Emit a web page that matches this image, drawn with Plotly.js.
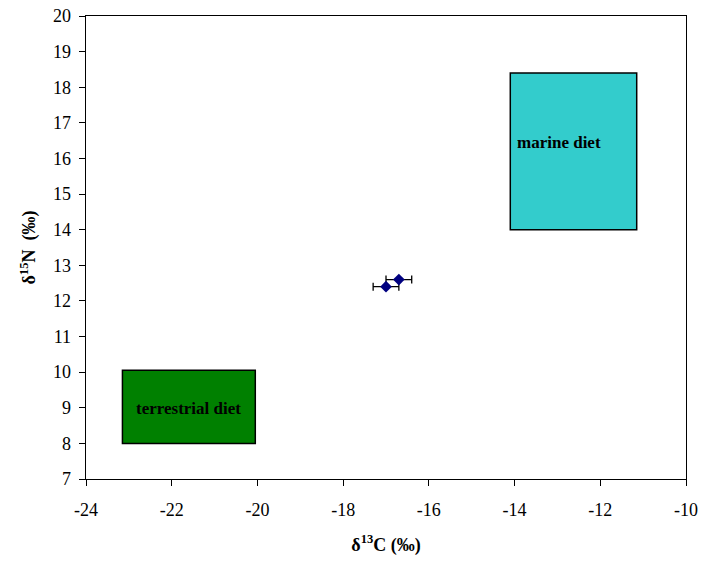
<!DOCTYPE html>
<html><head><meta charset="utf-8">
<script src="https://cdn.plot.ly/plotly-3.0.1.min.js"></script>
<style>html,body{margin:0;padding:0;background:#fff}</style>
</head><body>
<div id="chart" style="width:701px;height:563px"></div>
<script>
// Data
const pointsX = [-17.0, -16.7];
const pointsY = [12.4, 12.6];
const errX = [0.3, 0.3];

const boxNames = ["terrestrial diet", "marine diet"];
const boxX0 = [-23.15, -14.1];
const boxX1 = [-20.05, -11.15];
const boxY0 = [8.0, 14.0];
const boxY1 = [10.05, 18.4];
const boxColors = ["#008000", "#33CCCC"];

const xTicks = [-24, -22, -20, -18, -16, -14, -12, -10];
const yTicks = [7, 8, 9, 10, 11, 12, 13, 14, 15, 16, 17, 18, 19, 20];

const font = "Liberation Serif";

const shapes = boxNames.map((n, i) => ({
  type: "rect", xref: "x", yref: "y",
  x0: boxX0[i], x1: boxX1[i], y0: boxY0[i], y1: boxY1[i],
  fillcolor: boxColors[i], line: {color: "#000", width: 1.5}, layer: "below"
}));

const annotations = [
  {x: (boxX0[0] + boxX1[0]) / 2, y: (boxY0[0] + boxY1[0]) / 2 - 0.05, xref: "x", yref: "y",
   text: "<b>" + boxNames[0] + "</b>", showarrow: false,
   font: {family: font, size: 17, color: "#000"}},
  {x: boxX0[1] + 0.1, y: 16.45, xref: "x", yref: "y", xanchor: "left",
   text: "<b>" + boxNames[1] + "</b>", showarrow: false,
   font: {family: font, size: 17, color: "#000"}}
];

const trace = {
  x: pointsX, y: pointsY, type: "scatter", mode: "markers",
  marker: {symbol: "diamond", size: 9, color: "#000080"},
  error_x: {type: "data", array: errX, visible: true, color: "#000", thickness: 1.3, width: 4},
  showlegend: false, hoverinfo: "x+y"
};

const layout = {
  width: 701, height: 563,
  margin: {l: 86, r: 15, t: 16, b: 84},
  paper_bgcolor: "#fff", plot_bgcolor: "#fff",
  font: {family: font, size: 18, color: "#000"},
  showlegend: false,
  xaxis: {
    range: [-24, -10], tickmode: "array", tickvals: xTicks, ticktext: xTicks.map(String),
    showgrid: false, zeroline: false,
    showline: true, linecolor: "#000", linewidth: 1.3, mirror: true,
    ticks: "outside", ticklen: 6, tickcolor: "#000", tickwidth: 1,
    ticklabelstandoff: 8,
    tickfont: {family: font, size: 18, color: "#000"},
    title: {text: "<b>δ<sup>13</sup>C (‰)</b>", font: {family: font, size: 18, color: "#000"}, standoff: 19}
  },
  yaxis: {
    range: [7, 20], tickmode: "array", tickvals: yTicks,
    showgrid: false, zeroline: false,
    showline: true, linecolor: "#000", linewidth: 1.3, mirror: true,
    ticks: "outside", ticklen: 6, tickcolor: "#000", tickwidth: 1,
    ticklabelstandoff: 4,
    tickfont: {family: font, size: 18, color: "#000"},
    title: {text: "<b>δ<sup>15</sup>N  (‰)</b>", font: {family: font, size: 18, color: "#000"}, standoff: 12}
  },
  shapes: shapes,
  annotations: annotations
};

Plotly.newPlot("chart", [trace], layout, {displayModeBar: false, staticPlot: true});
</script>
</body></html>
